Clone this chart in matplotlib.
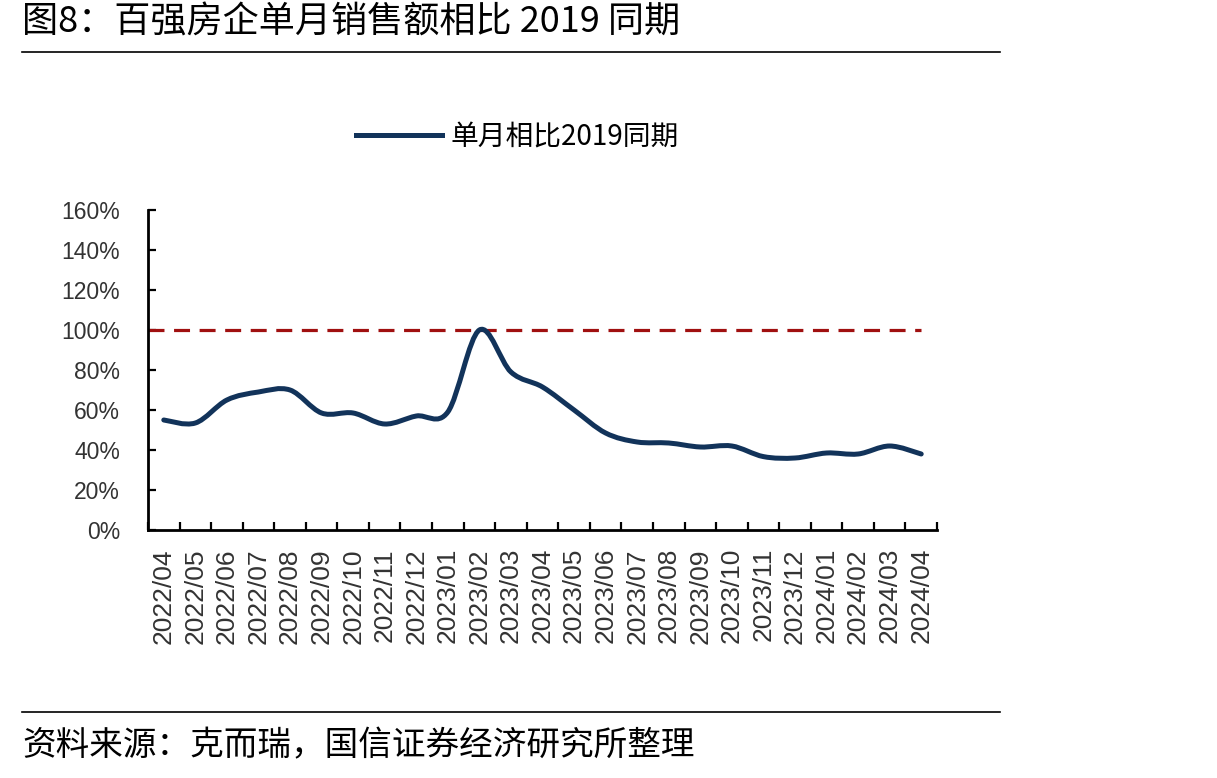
import numpy as np
import matplotlib
matplotlib.use("Agg")
import matplotlib.pyplot as plt
from matplotlib.path import Path
from matplotlib.patches import PathPatch
from matplotlib.lines import Line2D

plt.rcParams['font.family'] = ['Noto Sans CJK SC', 'DejaVu Sans']

months = ["2022/04", "2022/05", "2022/06", "2022/07", "2022/08", "2022/09",
          "2022/10", "2022/11", "2022/12", "2023/01", "2023/02", "2023/03",
          "2023/04", "2023/05", "2023/06", "2023/07", "2023/08", "2023/09",
          "2023/10", "2023/11", "2023/12", "2024/01", "2024/02", "2024/03",
          "2024/04"]
# 单月销售额相比2019同期 (%)
ratio = [55, 53.5, 65, 69, 70, 58.5, 58.5, 53, 57, 59, 100, 79, 71.5, 60,
         48.5, 44, 43.5, 41.5, 42, 36.7, 36, 38.5, 38, 42, 38]
baseline = 100

W, H = 1217, 778
fig = plt.figure(figsize=(W / 100, H / 100), dpi=100)
ax = fig.add_axes([148 / W, 1 - 530 / H, (937 - 148) / W, (530 - 210) / H])

x = np.arange(len(months))
y = np.array(ratio, dtype=float)

# Excel-style smoothed line: cubic bezier through the points
verts = [(x[0], y[0])]
codes = [Path.MOVETO]
n = len(x)
for i in range(n - 1):
    p0 = np.array([x[max(i - 1, 0)], y[max(i - 1, 0)]])
    p1 = np.array([x[i], y[i]])
    p2 = np.array([x[i + 1], y[i + 1]])
    p3 = np.array([x[min(i + 2, n - 1)], y[min(i + 2, n - 1)]])
    c1 = p1 + (p2 - p0) / 6
    c2 = p2 - (p3 - p1) / 6
    verts += [tuple(c1), tuple(c2), tuple(p2)]
    codes += [Path.CURVE4] * 3
navy = "#12335A"
ax.add_patch(PathPatch(Path(verts, codes), facecolor="none", edgecolor=navy,
                       lw=3.6, capstyle="round", joinstyle="round", zorder=3))

ax.plot([-0.5, len(months) - 1], [baseline, baseline], color="#A01010",
        lw=2.3, ls=(0, (5, 3)), zorder=2)

ax.set_xlim(-0.5, len(months) - 0.5)
ax.set_ylim(0, 160)
ax.set_yticks(np.arange(0, 161, 20))
ax.set_yticklabels([f"{v}%" for v in range(0, 161, 20)])
ax.set_xticks(np.arange(-0.5, len(months), 1), minor=False)
ax.set_xticklabels([])
ax.set_xticks(x, minor=True)
ax.set_xticklabels(months, minor=True, rotation=90)
ax.tick_params(axis="x", which="minor", length=0, pad=13, labelsize=19,
               labelcolor="#333333", labelfontfamily="Liberation Sans")
ax.tick_params(axis="x", which="major", direction="in", length=6, width=1.6)
ax.tick_params(axis="y", direction="in", length=6, width=1.6, pad=20,
               labelsize=16.5, labelcolor="#333333",
               labelfontfamily="Liberation Sans")
for s in ["top", "right"]:
    ax.spines[s].set_visible(False)
for s in ["left", "bottom"]:
    ax.spines[s].set_linewidth(2)

handle = Line2D([], [], color=navy, lw=3.6)
fig.legend([handle], ["单月相比2019同期"], loc="center",
           bbox_to_anchor=(517 / W, 1 - 137 / H), frameon=False,
           fontsize=20, handlelength=3.1, handletextpad=0.3)

fig.text(22 / W, 1 - 22 / H, "图8：百强房企单月销售额相比 2019 同期",
         fontsize=26, va="center", ha="left")
fig.add_artist(Line2D([22 / W, 1000 / W], [1 - 52 / H, 1 - 52 / H],
                      color="black", lw=1.2))
fig.add_artist(Line2D([22 / W, 1000 / W], [1 - 712 / H, 1 - 712 / H],
                      color="black", lw=1.2))
fig.text(22 / W, 1 - 746 / H, "资料来源：克而瑞，国信证券经济研究所整理",
         fontsize=24.2, va="center", ha="left")

fig.savefig("out.png", dpi=100)
